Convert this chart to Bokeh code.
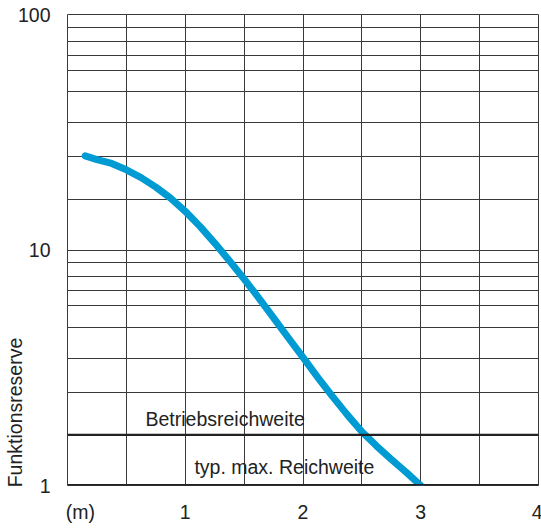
from bokeh.plotting import figure
from bokeh.models import Range1d, FixedTicker, Span, Label, CustomJSTickFormatter
from bokeh.embed import file_html
from bokeh.resources import INLINE

# Curve (distance in m, Funktionsreserve)
dist = [0.15, 0.25, 0.375, 0.5, 0.625, 0.75, 0.875, 1.0, 1.125, 1.25, 1.375, 1.5,
        1.625, 1.75, 1.875, 2.0, 2.125, 2.25, 2.375, 2.5, 2.625, 2.75, 2.875, 3.0]
reserve = [25.1, 24.2, 23.3, 21.9, 20.3, 18.5, 16.6, 14.6, 12.6, 10.7, 9.0, 7.53,
           6.25, 5.15, 4.24, 3.50, 2.88, 2.39, 2.00, 1.69, 1.47, 1.29, 1.14, 1.0]

# axis ticks / grid
unit_pos = 0.11
x_ticks = [unit_pos, 1, 2, 3, 4]
x_labels = {unit_pos: "(m)"}
x_grid = [0.5, 1, 1.5, 2, 2.5, 3, 3.5]
y_ticks = [1, 10, 100]
y_grid_per_decade = [1.64, 2.49, 3.47, 4.70, 5.80, 6.70, 7.70, 8.84]
y_grid = [v * d for d in (1, 10) for v in y_grid_per_decade] + [10]
limit_line = 1.64  # Grenze Betriebsreichweite / typ. max. Reichweite
y_title = "Funktionsreserve"

FONT = "Liberation Sans"
FS = "19.5px"
GRID = "#3a3a3a"
TXT = "#222222"

p = figure(width=533, height=520, frame_width=471, frame_height=471,
           x_range=Range1d(0, 4), y_range=Range1d(1, 100), y_axis_type="log",
           output_backend="svg", toolbar_location=None,
           min_border_left=58, min_border_right=4, min_border_top=14, min_border_bottom=35)

p.outline_line_color = GRID
p.outline_line_width = 1
p.background_fill_color = "white"
p.border_fill_color = "white"

p.xaxis.ticker = FixedTicker(ticks=x_ticks)
p.xaxis.major_label_overrides = x_labels
p.yaxis.ticker = FixedTicker(ticks=y_ticks)
p.yaxis.formatter = CustomJSTickFormatter(code="return tick.toFixed(0);")
for ax in (p.xaxis[0], p.yaxis[0]):
    ax.axis_line_color = None
    ax.major_tick_line_color = None
    ax.minor_tick_line_color = None
    ax.major_label_text_font = FONT
    ax.major_label_text_font_size = FS
    ax.major_label_text_color = TXT
p.yaxis.major_label_standoff = 11
p.xaxis.major_label_standoff = 9

# axis title sits at the lower end of the axis: pad its upper end with no-break spaces
p.yaxis.axis_label = y_title + "\u00a0" * 60
p.yaxis.axis_label_text_font = FONT
p.yaxis.axis_label_text_font_size = FS
p.yaxis.axis_label_text_font_style = "normal"
p.yaxis.axis_label_text_color = TXT
p.yaxis.axis_label_standoff = -11

p.xgrid.ticker = FixedTicker(ticks=x_grid)
p.ygrid.ticker = FixedTicker(ticks=y_grid)
p.xgrid.grid_line_color = GRID
p.ygrid.grid_line_color = GRID
p.xgrid.grid_line_width = 1
p.ygrid.grid_line_width = 1

p.add_layout(Span(location=limit_line, dimension="width", line_color=TXT, line_width=2.2))
p.add_layout(Span(location=1, dimension="width", line_color=TXT, line_width=3))

p.line(dist, reserve, line_width=7, line_color="#009bd2", line_cap="round", line_join="round")

p.add_layout(Label(x=0.662, y=1.91, text="Betriebsreichweite", text_font=FONT,
                   text_font_size=FS, text_color=TXT, text_baseline="alphabetic"))
p.add_layout(Label(x=1.078, y=1.195, text="typ. max. Reichweite", text_font=FONT,
                   text_font_size=FS, text_color=TXT, text_baseline="alphabetic"))

open("out.html", "w").write(file_html(p, INLINE))
